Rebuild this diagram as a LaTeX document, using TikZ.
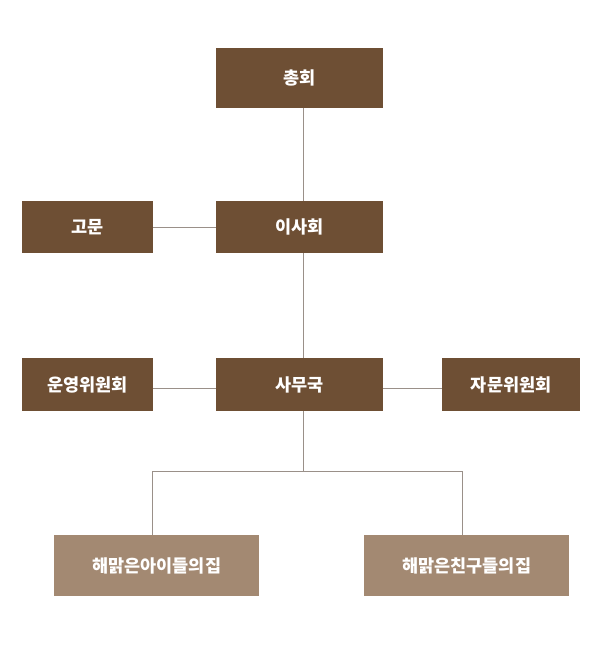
\documentclass[tikz,border=0pt]{standalone}
\usepackage{fontspec}
\newfontfamily\kr{Noto Sans CJK KR}
\definecolor{darkbox}{HTML}{6E4F34}
\definecolor{lightbox}{HTML}{A38972}
\definecolor{linecol}{HTML}{9A9089}
\begin{document}
\begin{tikzpicture}[x=1pt,y=-1pt,
  box/.style={fill=darkbox,draw=none,text=white,font=\kr\bfseries\fontsize{17.5}{20}\selectfont,anchor=north west,inner sep=0pt},
  lbox/.style={box,fill=lightbox},
  conn/.style={draw=linecol,line width=1pt}]
\useasboundingbox (0,0) rectangle (600,658);
\node[box,minimum width=167pt,minimum height=60pt] (chonghoe) at (216,48) {총회};
\node[box,minimum width=131pt,minimum height=52pt] (gomun) at (22,201) {고문};
\node[box,minimum width=167pt,minimum height=52pt] (isa) at (216,201) {이사회};
\node[box,minimum width=131pt,minimum height=53pt] (unyeong) at (22,358) {운영위원회};
\node[box,minimum width=167pt,minimum height=53pt] (samu) at (216,358) {사무국};
\node[box,minimum width=138pt,minimum height=53pt] (jamun) at (442,358) {자문위원회};
\node[lbox,minimum width=205pt,minimum height=61pt] (ai) at (54,535) {해맑은아이들의집};
\node[lbox,minimum width=205pt,minimum height=61pt] (chingu) at (364,535) {해맑은친구들의집};
\coordinate (split) at (303.5,471);
\draw[conn] (chonghoe.south -| split) -- (isa.north -| split);
\draw[conn] (isa.south -| split) -- (samu.north -| split);
\draw[conn] (gomun.east) -- (gomun.east -| isa.west);
\draw[conn] (unyeong.east |- 0,388) -- (samu.west |- 0,388);
\draw[conn] (samu.east |- 0,388) -- (jamun.west |- 0,388);
\draw[conn] (samu.south -| split) -- (split);
\draw[conn] (152.5,535) coordinate (la) -- (la |- split) -- (462.5,471) coordinate (rb) -- (rb |- chingu.north);
\end{tikzpicture}
\end{document}
